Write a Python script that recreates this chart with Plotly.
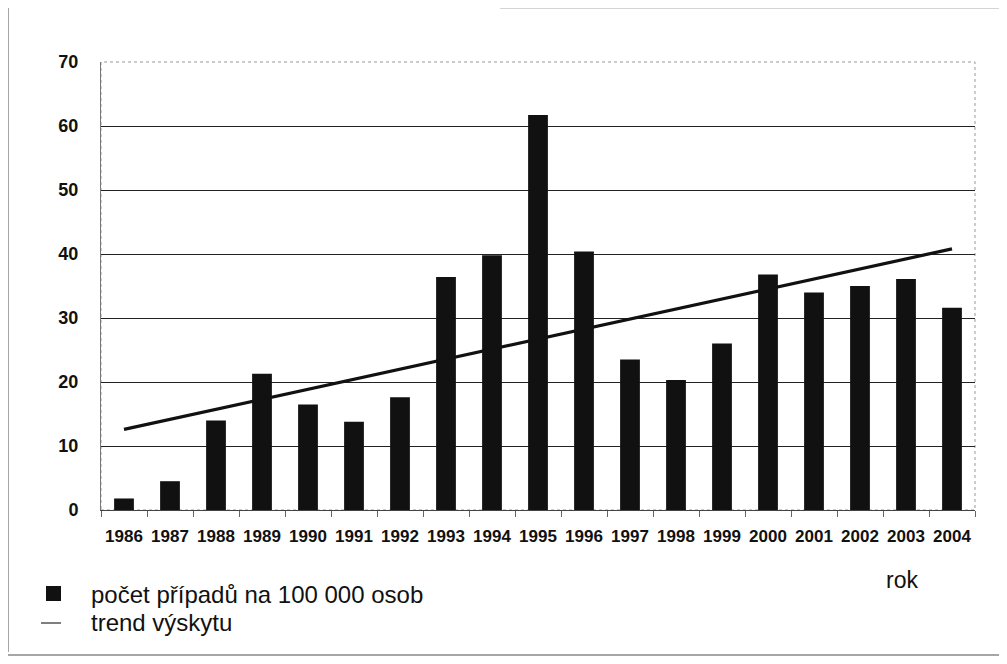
import plotly.graph_objects as go

years = ["1986", "1987", "1988", "1989", "1990", "1991", "1992", "1993", "1994", "1995",
         "1996", "1997", "1998", "1999", "2000", "2001", "2002", "2003", "2004"]
cases = [1.8, 4.5, 14.0, 21.3, 16.5, 13.8, 17.6, 36.4, 39.8, 61.7,
         40.4, 23.5, 20.3, 26.0, 36.8, 34.0, 35.0, 36.1, 31.6]
trend_years = ["1986", "2004"]
trend_values = [12.6, 40.8]
y_ticks = [0, 10, 20, 30, 40, 50, 60, 70]
bar_label = "počet případů na 100 000 osob"
trend_label = "trend výskytu"

OFF = 8  # page body margin in the browser
L, T, W, H = 101 - OFF, 62 - OFF, 874, 448  # plot area in figure pixels


def px(x):  # screen pixel -> paper x
    return (x - OFF - L) / W


def py(y):  # screen pixel -> paper y
    return (T + H - (y - OFF)) / H


fig = go.Figure()
fig.add_trace(go.Bar(x=years, y=cases, name=bar_label,
                     marker=dict(color="#111111", line=dict(width=0)), width=0.43))
fig.add_trace(go.Scatter(x=trend_years, y=trend_values, mode="lines", name=trend_label,
                         line=dict(color="#111111", width=3.2)))

narrow = "Liberation Sans Narrow, Liberation Sans, Arial, sans-serif"
fig.update_layout(
    width=1007, height=664,
    margin=dict(l=L, r=1007 - L - W, t=T, b=664 - T - H, autoexpand=False),
    paper_bgcolor="white", plot_bgcolor="white",
    font=dict(family="Liberation Sans, Arial, sans-serif", color="#111111"),
    showlegend=False,
    xaxis=dict(type="category", tickson="boundaries", ticks="outside", ticklen=6, tickcolor="#666",
               showline=True, linecolor="#444", linewidth=1.2, showgrid=False, tickangle=0,
               tickfont=dict(size=17, family=narrow, weight="bold"),
               ticklabelstandoff=10, automargin=False),
    yaxis=dict(range=[0, 70], tickvals=y_ticks, showgrid=True, gridcolor="#222", gridwidth=1.4,
               showline=True, linecolor="#777", linewidth=1, ticks="", zeroline=False,
               tickfont=dict(size=18, weight="bold"),
               ticklabelstandoff=18, automargin=False),
)
# plot-area frame (top and right, dotted grey)
fig.add_shape(type="rect", xref="paper", yref="paper", x0=0, y0=0, x1=1, y1=1,
              line=dict(color="#999", width=1, dash="dot"), layer="below")
# scanned page border
fig.add_shape(type="line", xref="paper", yref="paper", x0=px(8), x1=px(8), y0=py(652), y1=py(0),
              line=dict(color="#888", width=1.5))
fig.add_shape(type="line", xref="paper", yref="paper", x0=px(8), x1=px(1003), y0=py(655), y1=py(655),
              line=dict(color="#888", width=1.5))
fig.add_shape(type="line", xref="paper", yref="paper", x0=px(500), x1=px(1003), y0=py(8), y1=py(8),
              line=dict(color="#aaa", width=1))

# legend drawn manually
fig.add_shape(type="rect", xref="paper", yref="paper", x0=px(46), x1=px(61), y0=py(601), y1=py(586),
              fillcolor="#111111", line=dict(width=0))
fig.add_shape(type="line", xref="paper", yref="paper", x0=px(41), x1=px(61), y0=py(623), y1=py(623),
              line=dict(color="#555", width=1.5))
fig.add_annotation(text=bar_label, xref="paper", yref="paper", x=px(89), y=py(594), showarrow=False,
                   xanchor="left", yanchor="middle", font=dict(size=24))
fig.add_annotation(text=trend_label, xref="paper", yref="paper", x=px(89), y=py(622), showarrow=False,
                   xanchor="left", yanchor="middle", font=dict(size=24))

fig.add_annotation(text="rok", xref="paper", yref="paper", x=px(902), y=py(580), showarrow=False,
                   font=dict(size=23), xanchor="center", yanchor="middle")

fig.write_html("out.html")
